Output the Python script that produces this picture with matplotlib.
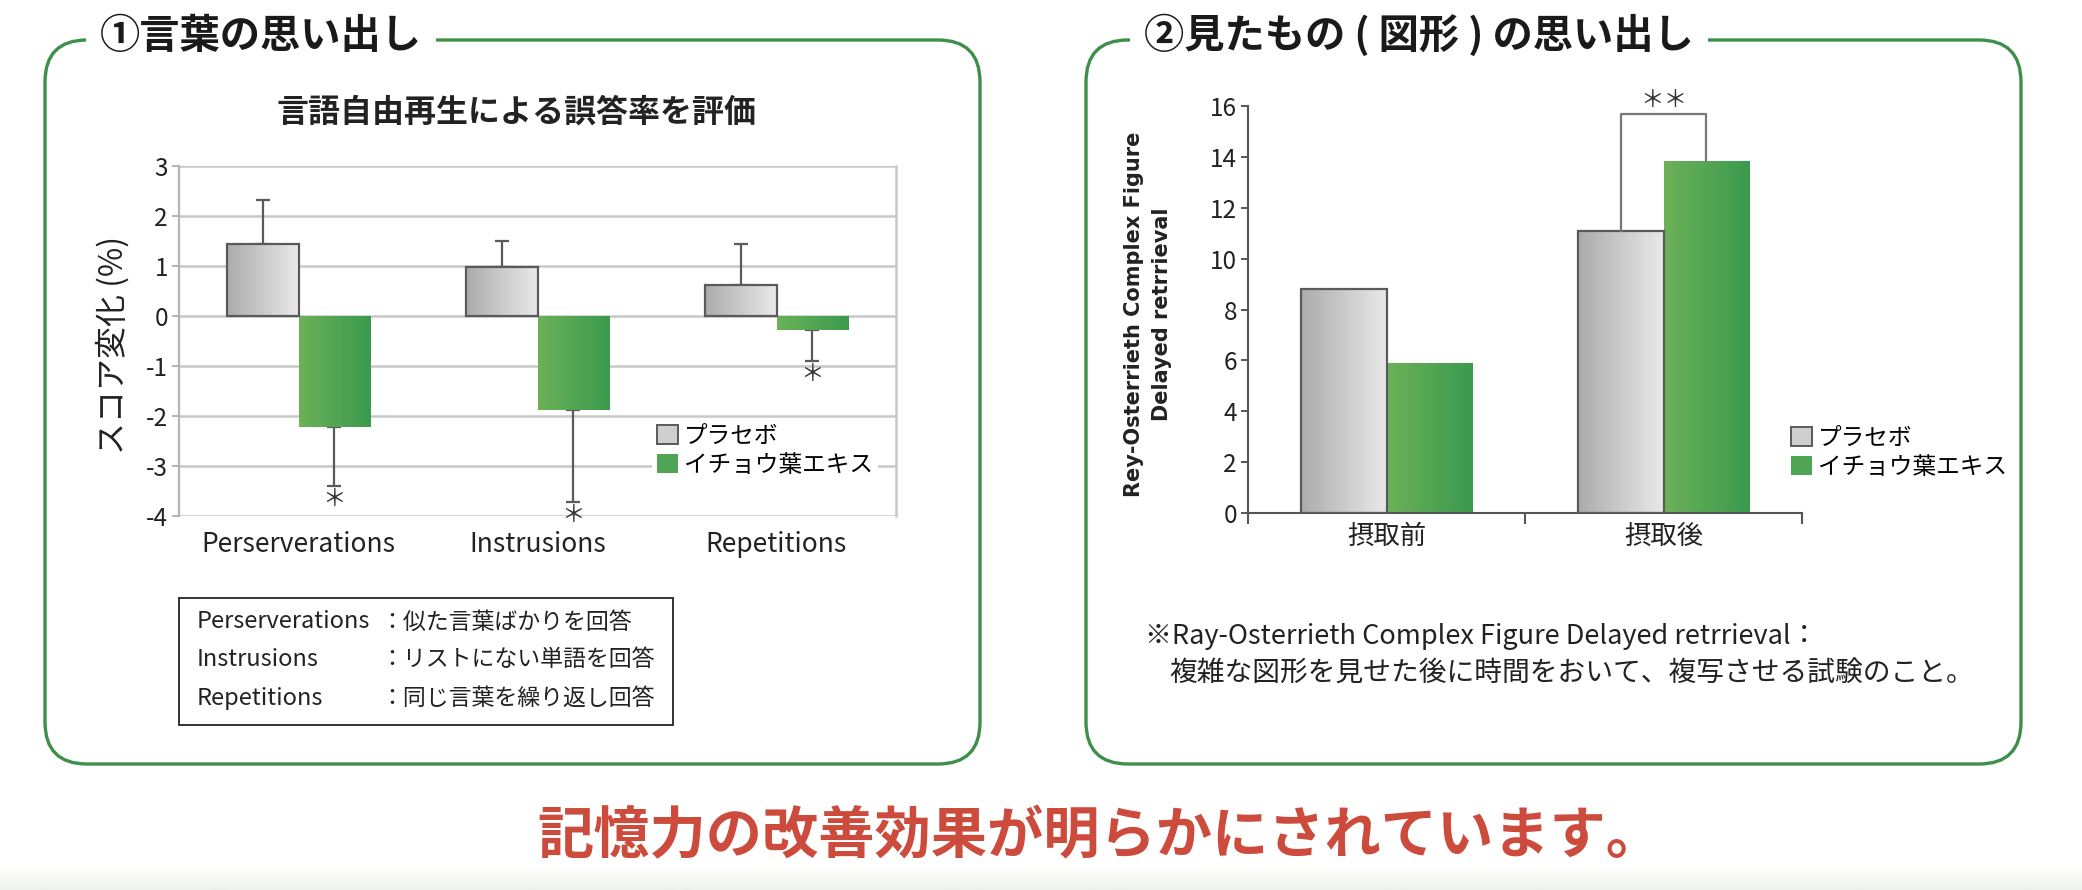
import matplotlib
matplotlib.use("Agg")
import matplotlib.pyplot as plt
import numpy as np
from matplotlib.patches import FancyBboxPatch, Rectangle, Patch
from matplotlib.colors import LinearSegmentedColormap

plt.rcParams['font.family'] = ['Noto Sans CJK JP', 'DejaVu Sans']
plt.rcParams['axes.unicode_minus'] = False

W, H = 2082, 890

# ---- data: (1) word recall ----
word_cats = ["Perserverations", "Instrusions", "Repetitions"]
word_placebo = [1.45, 0.98, 0.62]
word_placebo_err = [0.87, 0.52, 0.82]
word_ginkgo = [-2.22, -1.88, -0.28]
word_ginkgo_err = [1.18, 1.84, 0.62]
word_sig = ["＊", "＊", "＊"]

# ---- data: (2) figure recall ----
fig_cats = ["摂取前", "摂取後"]
fig_placebo = [8.82, 11.09]
fig_ginkgo = [5.88, 13.83]
bracket_top = 15.7
bracket_mark = "＊＊"

legend_labels = ["プラセボ", "イチョウ葉エキス"]

definitions = [
    ("Perserverations", "：似た言葉ばかりを回答"),
    ("Instrusions", "：リストにない単語を回答"),
    ("Repetitions", "：同じ言葉を繰り返し回答"),
]

GREEN_LINE = "#3d8f49"
TXT = "#222222"
GRAY_CMAP = LinearSegmentedColormap.from_list("gr", ["#acacac", "#e9e9e9"])
GREEN_CMAP = LinearSegmentedColormap.from_list("gn", ["#6cb158", "#3b9a4e"])
grad = np.linspace(0, 1, 64).reshape(1, -1)


def gradient_bars(ax, x, heights, width, cmap, edge):
    bars = ax.bar(x, heights, width, color="none", edgecolor=edge, lw=1.6, zorder=3)
    for b in bars:
        x0, y0, h = b.get_x(), b.get_y(), b.get_height()
        ax.imshow(grad, cmap=cmap, extent=[x0, x0 + b.get_width(), min(y0, y0 + h), max(y0, y0 + h)],
                  aspect="auto", zorder=2, interpolation="bilinear")
    return bars


fig = plt.figure(figsize=(W / 100, H / 100), dpi=100)

# overlay in pixel coords for frames and free text
ov = fig.add_axes([0, 0, 1, 1], zorder=0)
ov.imshow(np.linspace(0, 1, 20).reshape(-1, 1),
          cmap=LinearSegmentedColormap.from_list("bg", ["#ffffff", "#eef2ec"]),
          extent=[0, W, H, 866], aspect="auto", zorder=0)
ov.set_xlim(0, W)
ov.set_ylim(H, 0)
ov.axis("off")

for x0, x1 in [(45, 980), (1086, 2021)]:
    ov.add_patch(FancyBboxPatch((x0, 40), x1 - x0, 724, boxstyle="round,pad=0,rounding_size=42",
                                fill=False, ec=GREEN_LINE, lw=2.4))

title_bbox = dict(boxstyle="square,pad=0.35", fc="white", ec="none")
ov.text(100, 36, "①言葉の思い出し", fontsize=29, fontweight="bold", va="center", color="#1a1a1a",
        bbox=title_bbox)
ov.text(1144, 36, "②見たもの ( 図形 ) の思い出し", fontsize=29, fontweight="bold", va="center",
        color="#1a1a1a", bbox=title_bbox)

ov.text(517, 113, "言語自由再生による誤答率を評価", fontsize=23, fontweight="bold", ha="center",
        va="center", color=TXT)

ov.text(113, 345, "スコア変化 (%)", fontsize=23, rotation=90, ha="center", va="center", color=TXT)
ov.text(1148, 314, "Rey-Osterrieth Complex Figure\nDelayed retrrieval", fontsize=15,
        fontweight="bold", family="DejaVu Sans", rotation=90, ha="center", va="center",
        multialignment="center", linespacing=1.45, color=TXT)

# definitions table
ov.add_patch(Rectangle((179, 598), 494, 127, fill=False, ec="#333333", lw=1.4))
for i, (en, jp) in enumerate(definitions):
    y = 622 + i * 38
    ov.text(197, y, en, fontsize=17, va="center", color=TXT)
    ov.text(380, y, jp, fontsize=16.5, va="center", color=TXT)

ov.text(1145, 637, "※Ray-Osterrieth Complex Figure Delayed retrrieval：", fontsize=19.5,
        va="center", color=TXT)
ov.text(1169, 674, "複雑な図形を見せた後に時間をおいて、複写させる試験のこと。", fontsize=20,
        va="center", color=TXT)

ov.text(1100, 837, "記憶力の改善効果が明らかにされています。", fontsize=40.5, fontweight="bold",
        ha="center", va="center", color="#cc4b3c")

# ---- left chart ----
ax1 = fig.add_axes([179 / W, 1 - 516 / H, 717 / W, 350 / H], zorder=2)
x = np.arange(len(word_cats))
bw = 0.3
gradient_bars(ax1, x - bw / 2, word_placebo, bw, GRAY_CMAP, "#5a5a5a")
gradient_bars(ax1, x + bw / 2, word_ginkgo, bw, GREEN_CMAP, "none")
zeros = [0] * len(word_cats)
ax1.errorbar(x - bw / 2, word_placebo, yerr=[zeros, word_placebo_err], fmt="none", ecolor="#5a5a5a",
             elinewidth=1.6, capsize=5, capthick=1.6, zorder=1.5)
ax1.errorbar(x + bw / 2, word_ginkgo, yerr=[word_ginkgo_err, zeros], fmt="none", ecolor="#5a5a5a",
             elinewidth=1.6, capsize=5, capthick=1.6, zorder=1.5)
for xi, v, e, s in zip(x, word_ginkgo, word_ginkgo_err, word_sig):
    ax1.text(xi + bw / 2, v - e - 0.27, s, fontsize=17, ha="center", va="center", color="#333333",
             clip_on=False)

ax1.set_xlim(-0.5, 2.5)
ax1.set_ylim(-4, 3)
ax1.set_yticks(range(-4, 4))
ax1.set_yticklabels([str(v) for v in range(-4, 4)])
ax1.yaxis.grid(True, color="#c8c8c8", lw=1.8)
ax1.set_axisbelow(True)
for s in ["top", "bottom"]:
    ax1.spines[s].set_visible(False)
ax1.spines["left"].set_color("#b5b5b5")
ax1.spines["right"].set_color("#c8c8c8")
ax1.spines["left"].set_linewidth(1.6)
ax1.spines["right"].set_linewidth(1.8)
ax1.set_xticks(x)
ax1.set_xticklabels(word_cats, fontsize=19, color=TXT)
ax1.tick_params(axis="x", length=0, pad=11)
ax1.tick_params(axis="y", labelsize=17.5, length=5, color="#b5b5b5", width=1.4, pad=3,
                labelcolor=TXT)
ax1.patch.set_alpha(0)

h_gray = Patch(facecolor="#cfcfcf", edgecolor="#5a5a5a", lw=1.4)
h_green = Patch(facecolor="#4fa553", edgecolor="none")
leg1 = ax1.legend([h_gray, h_green], legend_labels, loc="upper left",
                  bbox_to_anchor=((652 - 179) / 717, (516 - 420) / 350), fontsize=17,
                  frameon=True, framealpha=1, edgecolor="none", fancybox=False,
                  handlelength=0.9, handleheight=0.9, handletextpad=0.25, labelspacing=0.25,
                  borderpad=0.2, borderaxespad=0)
leg1.get_frame().set_facecolor("white")

# ---- right chart ----
ax2 = fig.add_axes([1248 / W, 1 - 513 / H, 554 / W, 407 / H], zorder=2)
x2 = np.arange(len(fig_cats))
bw2 = 0.31
gradient_bars(ax2, x2 - bw2 / 2, fig_placebo, bw2, GRAY_CMAP, "#5a5a5a")
gradient_bars(ax2, x2 + bw2 / 2, fig_ginkgo, bw2, GREEN_CMAP, "none")
ax2.plot([1 - bw2 / 2, 1 - bw2 / 2, 1 + bw2 / 2, 1 + bw2 / 2],
         [fig_placebo[1], bracket_top, bracket_top, fig_ginkgo[1]],
         color="#777777", lw=1.6, zorder=4, clip_on=False)
ax2.text(1, bracket_top + 0.5, bracket_mark, fontsize=17, ha="center", va="center",
         color="#333333", clip_on=False)

ax2.set_xlim(-0.5, 1.5)
ax2.set_ylim(0, 16)
ax2.set_yticks(range(0, 17, 2))
for s in ["top", "right"]:
    ax2.spines[s].set_visible(False)
for s in ["left", "bottom"]:
    ax2.spines[s].set_color("#555555")
    ax2.spines[s].set_linewidth(1.5)
ax2.set_xticks([-0.5, 0.5, 1.5])
ax2.set_xticklabels([])
ax2.set_xticks(x2, minor=True)
ax2.set_xticklabels(fig_cats, minor=True, fontsize=19, color=TXT)
ax2.tick_params(axis="x", which="major", length=8, width=1.5, color="#555555")
ax2.tick_params(axis="x", which="minor", length=0, pad=7)
ax2.tick_params(axis="y", labelsize=17.5, length=5, width=1.4, color="#555555", pad=3,
                labelcolor=TXT)
ax2.patch.set_alpha(0)

fig.legend([h_gray, h_green], legend_labels, loc="upper left",
           bbox_to_anchor=(1786 / W, 1 - 422 / H), fontsize=17, frameon=False,
           handlelength=0.9, handleheight=0.9, handletextpad=0.25, labelspacing=0.25,
           borderpad=0.2, borderaxespad=0)

fig.savefig("out.png", dpi=100, facecolor="white")
